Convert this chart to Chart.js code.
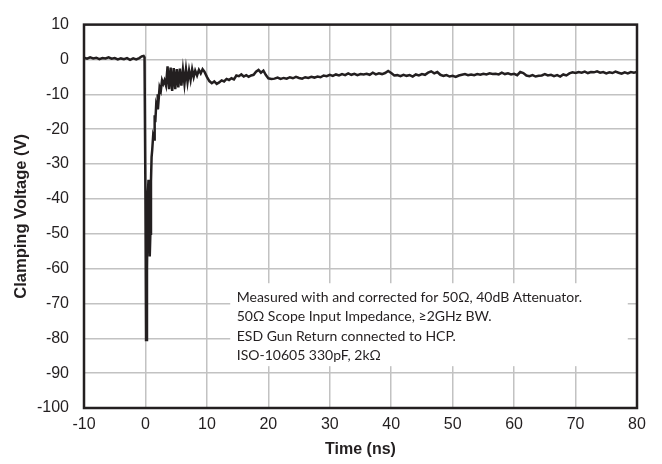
<!DOCTYPE html>
<html>
<head>
<meta charset="utf-8">
<script src="https://cdn.jsdelivr.net/npm/chart.js@4"></script>
<style>
  body { margin: 0; background: #fff; }
  #wrap { width: 662px; height: 464px; }
</style>
</head>
<body>
<div id="wrap"><canvas id="myChart" width="662" height="464"></canvas></div>
<script>
// time axis (ns)
const timeNs = [
  -10, -9.5, -9, -8.5, -8, -7.5, -7, -6.5, -6, -5.5, -5, -4.5, -4, -3.5, -3, -2.5, -2, -1.5, -1, -0.6, -0.3, -0.15,
  0.0, 0.1, 0.25, 0.4, 0.5, 0.6, 0.7, 0.8, 0.9, 1.0, 1.1, 1.25, 1.4, 1.5, 1.6, 1.75, 1.9, 2.0, 2.15, 2.3, 2.5, 2.7, 2.9,
  3.1, 3.35, 3.6, 3.85, 4.1, 4.35, 4.6, 4.85, 5.1, 5.35, 5.6, 5.85, 6.1, 6.35, 6.6, 6.85, 7.1, 7.35, 7.6, 7.85,
  8.1, 8.4, 8.7, 9.0, 9.3, 9.6, 10.0, 10.4, 10.8, 11.2, 11.6, 12.0, 12.4, 12.8,
  13.2, 13.6, 14.0, 14.4, 14.8, 15.2, 15.6, 16.0, 16.4, 16.8, 17.2, 17.6, 18.0, 18.4, 18.8, 19.2, 19.6,
  20, 20.5, 21, 21.5, 22, 22.5, 23, 23.5, 24, 24.5, 25, 25.5, 26, 26.5, 27, 27.5, 28, 28.5, 29, 29.5,
  30, 30.5, 31, 31.5, 32, 32.5, 33, 33.5, 34, 34.5, 35, 35.5, 36, 36.5, 37, 37.5, 38, 38.5, 39, 39.5,
  40, 40.5, 41, 41.5, 42, 42.5, 43, 43.5, 44, 44.5, 45, 45.5, 46, 46.5, 47, 47.5, 48, 48.5, 49, 49.5,
  50, 50.5, 51, 51.5, 52, 52.5, 53, 53.5, 54, 54.5, 55, 55.5, 56, 56.5, 57, 57.5, 58, 58.5, 59, 59.5,
  60, 60.5, 61, 61.5, 62, 62.5, 63, 63.5, 64, 64.5, 65, 65.5, 66, 66.5, 67, 67.5, 68, 68.5, 69, 69.5,
  70, 70.5, 71, 71.5, 72, 72.5, 73, 73.5, 74, 74.5, 75, 75.5, 76, 76.5, 77, 77.5, 78, 78.5, 79, 79.5, 80
];

// clamping voltage (V) at each time above
const clampV = [
  0.5, 0.2, 0.6, 0.3, 0.5, 0.1, 0.4, 0.3, 0.6, 0.2, 0.4, 0.0, 0.3, 0.1, 0.4, -0.1, 0.3, 0.0, 0.4, 0.9, 1.0, 0.6,
  -40, -80.5, -60, -38, -34.5, -45, -56.5, -50, -35, -28, -26, -22, -23, -16, -18, -13, -14, -10, -11.5, -8, -9, -6, -7,
  -6, -7.5, -2.0, -8.5, -2.3, -9.0, -2.5, -8.5, -2.8, -8.0, -2.6, -7.5, -3.0, -7.0, -2.8, -6.5, -3.2, -5.8, -2.8, -5.0,
  -3.2, -4.6, -3.0, -4.0, -2.8, -3.5, -5, -6.2, -6.8, -6.3, -7, -6.6, -6, -6.3,
  -5.6, -5.9, -5.4, -5.7, -4.6, -4.8, -4.3, -4.9, -4.5, -5.0, -4.6, -4.4, -3.5, -3.0, -3.8, -3.2, -4.5,
  -5.4, -5.6, -5.5, -5.2, -5.6, -5.3, -5.5, -5.1, -5.4, -5.0, -5.3, -5.5, -5.1, -5.3, -5.0, -5.2, -4.9, -5.1, -4.6, -4.8,
  -4.4, -4.7, -4.3, -4.6, -4.2, -4.5, -4.0, -4.4, -4.1, -4.5, -4.2, -4.3, -4.1, -4.4, -3.8, -4.3, -4.0, -4.2, -3.9, -3.3,
  -3.9, -4.6, -4.5, -4.8, -4.4, -4.7, -4.5, -4.9, -4.3, -4.6, -4.2, -4.4, -3.8, -3.4, -4.0, -3.6, -4.4, -4.7, -4.5, -4.9,
  -4.7, -5.0, -4.6, -4.4, -4.2, -4.5, -4.3, -4.5, -4.2, -4.4, -4.1, -4.3, -4.0, -4.2, -4.1, -4.3, -3.8, -4.2, -4.0, -4.3,
  -4.1, -4.5, -3.6, -3.9, -4.6, -4.8, -4.5, -4.9, -4.7, -4.6, -4.2, -4.6, -4.4, -4.8, -4.5, -4.9, -4.3, -4.6, -4.0, -3.7,
  -3.9, -3.6, -3.8, -3.5, -3.9, -3.6, -3.7, -3.4, -3.8, -3.6, -4.0, -3.7, -3.9, -3.5, -3.8, -4.1, -3.7, -4.0, -3.6, -3.8, -3.6
];

const noteLines = [
  'Measured with and corrected for 50\u03A9, 40dB Attenuator.',
  '50\u03A9 Scope Input Impedance, \u22652GHz BW.',
  'ESD Gun Return connected to HCP.',
  'ISO-10605 330pF, 2k\u03A9'
];

const ink = '#231f20';
const gridGrey = '#c2c2c2';

const points = timeNs.map((t, i) => ({ x: t, y: clampV[i] }));

// white note box with the test conditions, sits on top of the grid
const notePlugin = {
  id: 'noteBox',
  beforeDatasetsDraw(chart) {
    const ctx = chart.ctx;
    const xs = chart.scales.x, ys = chart.scales.y;
    const left = xs.getPixelForValue(13.8);
    const right = xs.getPixelForValue(78.5);
    const top = ys.getPixelForValue(-64.2);
    const bottom = ys.getPixelForValue(-88);
    ctx.save();
    ctx.fillStyle = '#fff';
    ctx.fillRect(left, top, right - left, bottom - top);
    ctx.fillStyle = ink;
    ctx.font = '14px Lato';
    ctx.textBaseline = 'middle';
    noteLines.forEach((line, i) => {
      ctx.fillText(line, left + 6.5, top + 14.5 + i * 19.2);
    });
    ctx.restore();
  }
};

// box round the whole plot area
const framePlugin = {
  id: 'frame',
  afterDatasetsDraw(chart) {
    const a = chart.chartArea;
    const ctx = chart.ctx;
    ctx.save();
    ctx.strokeStyle = ink;
    ctx.lineWidth = 2.5;
    ctx.strokeRect(a.left, a.top, a.right - a.left, a.bottom - a.top);
    ctx.restore();
  }
};

const ctx = document.getElementById('myChart').getContext('2d');
window.myChart = new Chart(ctx, {
  type: 'line',
  data: {
    datasets: [{
      data: points,
      borderColor: ink,
      borderWidth: 2.5,
      pointRadius: 0,
      tension: 0,
      fill: false
    }]
  },
  options: {
    responsive: false,
    animation: false,
    layout: { padding: { left: 0, right: 25, top: 15, bottom: 0 } },
    plugins: {
      legend: { display: false },
      tooltip: { enabled: false }
    },
    scales: {
      x: {
        type: 'linear',
        min: -10,
        max: 80,
        afterFit(scale) { scale.height = 56; },
        ticks: {
          stepSize: 10,
          padding: 7,
          color: ink,
          font: { family: 'Liberation Sans', size: 16 }
        },
        grid: { color: gridGrey, lineWidth: 1.5, drawTicks: false },
        border: { display: false },
        title: {
          display: true,
          text: 'Time (ns)',
          color: ink,
          padding: { top: 0, bottom: 5 },
          font: { family: 'Liberation Sans', size: 16, weight: 'bold' }
        }
      },
      y: {
        min: -100,
        max: 10,
        afterFit(scale) { scale.width = 84; },
        ticks: {
          stepSize: 10,
          padding: 15,
          color: ink,
          font: { family: 'Liberation Sans', size: 16 }
        },
        grid: { color: gridGrey, lineWidth: 1.5, drawTicks: false },
        border: { display: false },
        title: {
          display: true,
          text: 'Clamping Voltage (V)',
          color: ink,
          padding: { top: 12, bottom: 0 },
          font: { family: 'Liberation Sans', size: 16.5, weight: 'bold' }
        }
      }
    }
  },
  plugins: [notePlugin, framePlugin]
});
</script>
</body>
</html>
